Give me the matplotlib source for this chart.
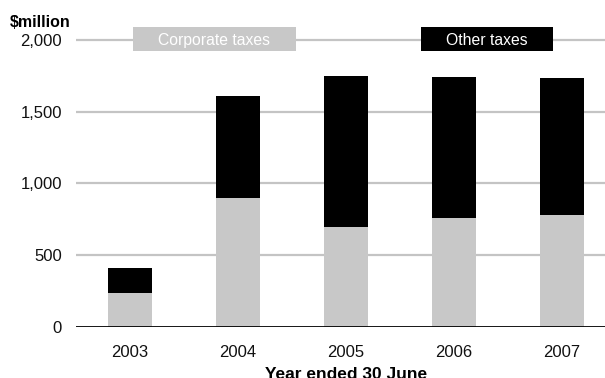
import matplotlib
matplotlib.use("Agg")
import matplotlib.pyplot as plt
from matplotlib.patches import Rectangle

# Tax revenue by year ended 30 June ($million)
years = ["2003", "2004", "2005", "2006", "2007"]
corporate_taxes = [237, 898, 695, 758, 779]
other_taxes = [171, 708, 1056, 986, 958]
y_ticks = [0, 500, 1000, 1500, 2000]
y_tick_labels = ["0", "500", "1,000", "1,500", "2,000"]

GREY = "#c8c8c8"
BLACK = "#000000"
GRID = "#c4c4c4"
FONT = ["Liberation Sans", "DejaVu Sans"]

plt.rcParams["font.family"] = FONT

W, H = 605, 378
fig = plt.figure(figsize=(W / 100, H / 100), dpi=100)

# axes placed in pixel terms: left edge 76px, bottom 326.7px from top
left_px, bottom_px, top_px = 76, 326.7, 25.67
ax = fig.add_axes([left_px / W, (H - bottom_px) / H, 1 - left_px / W,
                   (bottom_px - top_px) / H])

x = range(len(years))
width = 0.407
ax.bar(x, corporate_taxes, width, color=GREY, zorder=3)
ax.bar(x, other_taxes, width, bottom=corporate_taxes, color=BLACK, zorder=3)

ax.set_xlim(-0.5, (W - left_px) / 108 - 0.5)
ax.set_ylim(0, 2100)

ax.set_yticks(y_ticks)
ax.set_yticklabels(y_tick_labels)
ax.set_xticks(list(x))
ax.set_xticklabels(years)
ax.tick_params(axis="both", length=0, labelsize=12, colors="#111111")
ax.tick_params(axis="y", pad=10)
ax.tick_params(axis="x", pad=13)

for v in y_ticks[1:]:
    ax.axhline(v, color=GRID, lw=1.6, zorder=1)
ax.axhline(0, color=BLACK, lw=2.0, zorder=4)

for s in ax.spines.values():
    s.set_visible(False)

# unit label and axis title
fig.text(10 / W, 1 - 27 / H, "$million", fontsize=11.5, fontweight="bold",
         ha="left", va="baseline")
fig.text(346 / W, 1 - 379 / H, "Year ended 30 June", fontsize=12.5,
         fontweight="bold", ha="center", va="baseline")

# key boxes sitting on the top gridline
fig.canvas.draw()
renderer = fig.canvas.get_renderer()


def key(cx, label, face, color):
    t = fig.text(cx / W, 1 - 39 / H, label, fontsize=11.3, color=color,
                 ha="center", va="center_baseline", zorder=6)
    bb = t.get_window_extent(renderer)
    pad = 25.5
    x0 = bb.x0 - pad
    w = bb.width + 2 * pad
    y0 = H - 50.7
    h = 23.7
    fig.add_artist(Rectangle((x0 / W, y0 / H), w / W, h / H,
                             transform=fig.transFigure, facecolor=face,
                             edgecolor="none", zorder=5))


key(214, "Corporate taxes", GREY, "white")
key(487, "Other taxes", BLACK, "white")

fig.savefig("out.png", dpi=100)
